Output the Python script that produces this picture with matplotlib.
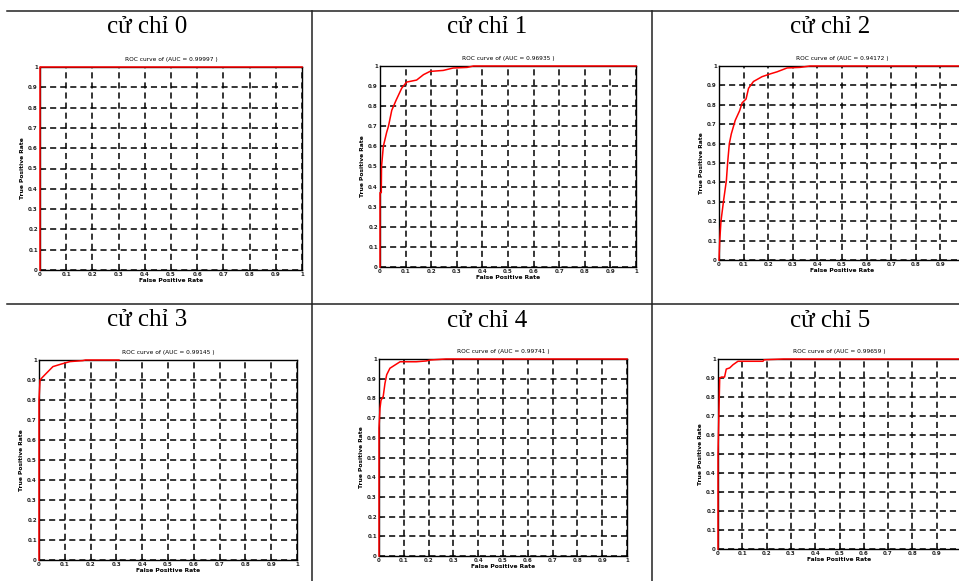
import matplotlib.pyplot as plt
from matplotlib.lines import Line2D

# gesture labels and AUC values shown in each panel title
gestures = ['cử chỉ 0', 'cử chỉ 1', 'cử chỉ 2', 'cử chỉ 3', 'cử chỉ 4', 'cử chỉ 5']
auc_values = ['0.99997', '0.96935', '0.94172', '0.99145', '0.99741', '0.99659']

# ROC curves (false positive rate, true positive rate)
fpr_0 = [0, 0, 1]
tpr_0 = [0, 1, 1]

fpr_1 = [0, 0, 0.005, 0.006, 0.013, 0.026, 0.033, 0.046, 0.063, 0.085, 0.104,
         0.143, 0.17, 0.195, 0.247, 0.286, 0.34, 0.365, 1]
tpr_1 = [0, 0.37, 0.37, 0.50, 0.60, 0.67, 0.70, 0.78, 0.83, 0.89, 0.92,
         0.93, 0.957, 0.973, 0.978, 0.99, 0.993, 1.0, 1.0]

fpr_2 = [0, 0.003, 0.008, 0.019, 0.03, 0.035, 0.042, 0.05, 0.066, 0.084, 0.094,
         0.11, 0.12, 0.14, 0.175, 0.21, 0.236, 0.277, 0.33, 0.37, 1]
tpr_2 = [0, 0.10, 0.20, 0.31, 0.41, 0.50, 0.60, 0.65, 0.72, 0.77, 0.81,
         0.83, 0.885, 0.92, 0.945, 0.96, 0.97, 0.99, 0.993, 1.0, 1.0]

fpr_3 = [0, 0, 0.004, 0.013, 0.028, 0.054, 0.087, 0.12, 0.17, 0.18, 0.31]
tpr_3 = [0, 0.80, 0.90, 0.913, 0.933, 0.967, 0.98, 0.992, 0.997, 1.0, 1.0]

fpr_4 = [0, 0, 0.004, 0.008, 0.017, 0.024, 0.031, 0.044, 0.065, 0.085, 0.15,
         0.19, 0.207, 0.27, 1]
tpr_4 = [0, 0.65, 0.75, 0.79, 0.81, 0.876, 0.92, 0.953, 0.97, 0.986, 0.986,
         0.99, 0.995, 1.0, 1.0]

fpr_5 = [0, 0, 0.007, 0.014, 0.027, 0.034, 0.048, 0.062, 0.082, 0.185, 0.19,
         0.27, 1]
tpr_5 = [0, 0.50, 0.90, 0.905, 0.905, 0.947, 0.953, 0.97, 0.988, 0.988, 0.996,
         1.0, 1.0]

curves = [(fpr_0, tpr_0), (fpr_1, tpr_1), (fpr_2, tpr_2),
          (fpr_3, tpr_3), (fpr_4, tpr_4), (fpr_5, tpr_5)]

W, H = 959, 581
fig = plt.figure(figsize=(W / 100, H / 100), dpi=100)
fig.patch.set_facecolor('white')

# axes boxes in pixels: left, top, right, bottom
boxes = [(40, 67, 302, 270), (380, 66, 636, 267), (719, 66, 965, 260),
         (39, 360, 297, 560), (379, 359, 627, 556), (718, 359, 961, 549)]
title_pos = [(147, 27), (487, 27), (830, 27), (147, 320), (487, 321), (830, 321)]

ticks = [i / 10 for i in range(11)]
tick_labels = ['0', '0.1', '0.2', '0.3', '0.4', '0.5', '0.6', '0.7', '0.8', '0.9', '1']

for i, (l, t, r, b) in enumerate(boxes):
    ax = fig.add_axes([l / W, 1 - b / H, (r - l) / W, (b - t) / H])
    fpr, tpr = curves[i]
    ax.plot(fpr, tpr, color='red', linewidth=1.1, clip_on=False, zorder=3)
    ax.set_xlim(0, 1)
    ax.set_ylim(0, 1)
    ax.set_xticks(ticks)
    ax.set_yticks(ticks)
    xlabels = list(tick_labels)
    if r > W:
        # right column is cut off by the page edge, its last label is not shown
        xlabels[-1] = ''
    ax.set_xticklabels(xlabels, fontweight='bold')
    ax.set_yticklabels(tick_labels, fontweight='bold')
    ax.tick_params(direction='in', length=2, width=0.6, labelsize=4, pad=1.5,
                   colors='#222222')
    ax.grid(True, color='black', linestyle=(0, (4, 2.6)), linewidth=1.1)
    for s in ax.spines.values():
        s.set_linewidth(1.0)
        s.set_color('black')
    ax.set_title(f'ROC curve of (AUC = {auc_values[i]} )', fontsize=4.2, pad=4)
    ax.set_xlabel('False Positive Rate', fontsize=4.3, labelpad=1, fontweight='bold')
    ax.set_ylabel('True Positive Rate', fontsize=4.3, labelpad=2, fontweight='bold')

    tx, ty = title_pos[i]
    fig.text(tx / W, 1 - ty / H, gestures[i], ha='center', va='center',
             fontsize=18, family='Liberation Serif')

# table borders
line_kw = dict(color='#222222', linewidth=1.1, transform=fig.transFigure)
fig.add_artist(Line2D([7 / W, 1], [1 - 11 / H, 1 - 11 / H], **line_kw))
fig.add_artist(Line2D([7 / W, 1], [1 - 304 / H, 1 - 304 / H], **line_kw))
fig.add_artist(Line2D([312 / W, 312 / W], [0, 1 - 11 / H], **line_kw))
fig.add_artist(Line2D([652 / W, 652 / W], [0, 1 - 11 / H], **line_kw))

fig.savefig('out.png', dpi=100)
